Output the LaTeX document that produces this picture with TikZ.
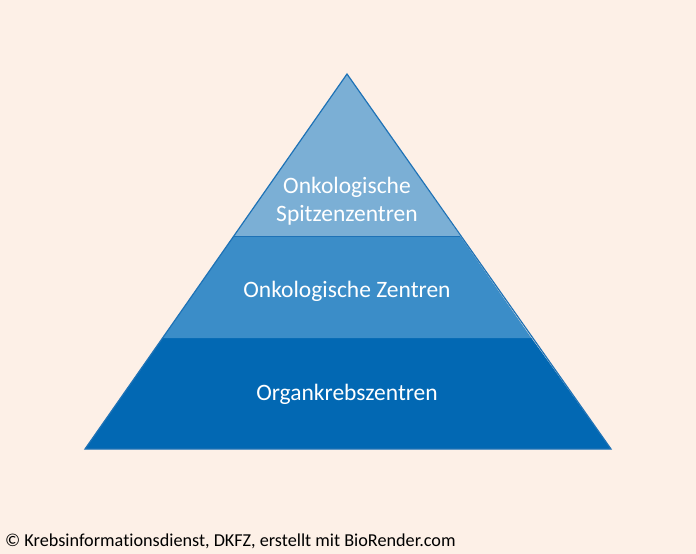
\documentclass[tikz,border=0pt]{standalone}
\usepackage{fontspec}
\setmainfont[Ligatures=NoCommon]{Carlito}
\definecolor{bg}{HTML}{FDF0E7}
\definecolor{ctop}{HTML}{7BAFD5}
\definecolor{cmid}{HTML}{3B8DC8}
\definecolor{cbot}{HTML}{0268B3}
\definecolor{edge}{HTML}{1E72B6}
\tikzset{
  lbl/.style={text=white, font=\fontsize{23.5}{27.5}\selectfont, align=center, inner sep=0pt},
  tier/.style={draw=edge, line width=1.2pt, line join=miter},
}
\begin{document}
\begin{tikzpicture}[x=1pt,y=-1pt]
\fill[bg] (0,0) rectangle (696,554);
\useasboundingbox (0,0) rectangle (696,554);
\coordinate (A) at (347,74);
\coordinate (L1) at (233.8,236);
\coordinate (R1) at (460.2,236);
\coordinate (L2) at (162.6,338);
\coordinate (R2) at (531.4,338);
\coordinate (BL) at (85,449);
\coordinate (BR) at (611,449);
\fill[cbot] (L2) -- (R2) -- (BR) -- (BL) -- cycle;
\fill[cmid] (L1) -- (R1) -- (R2) -- (L2) -- cycle;
\fill[ctop] (A) -- (R1) -- (L1) -- cycle;
\draw[edge, line width=0.8pt] (L1) -- (R1);
\draw[tier] (A) -- (BR) -- (BL) -- cycle;
\node[lbl] (t1) at (347,201) {Onkologische\\Spitzenzentren};
\node[lbl] (t2) at (347,291) {Onkologische Zentren};
\node[lbl] (t3) at (347,394) {Organkrebszentren};
\node[anchor=base west, inner sep=0pt, font=\fontsize{18.2}{21}\selectfont, text=black] (cp) at (5,546) {© Krebsinformationsdienst, DKFZ, erstellt mit BioRender.com};
\end{tikzpicture}
\end{document}
